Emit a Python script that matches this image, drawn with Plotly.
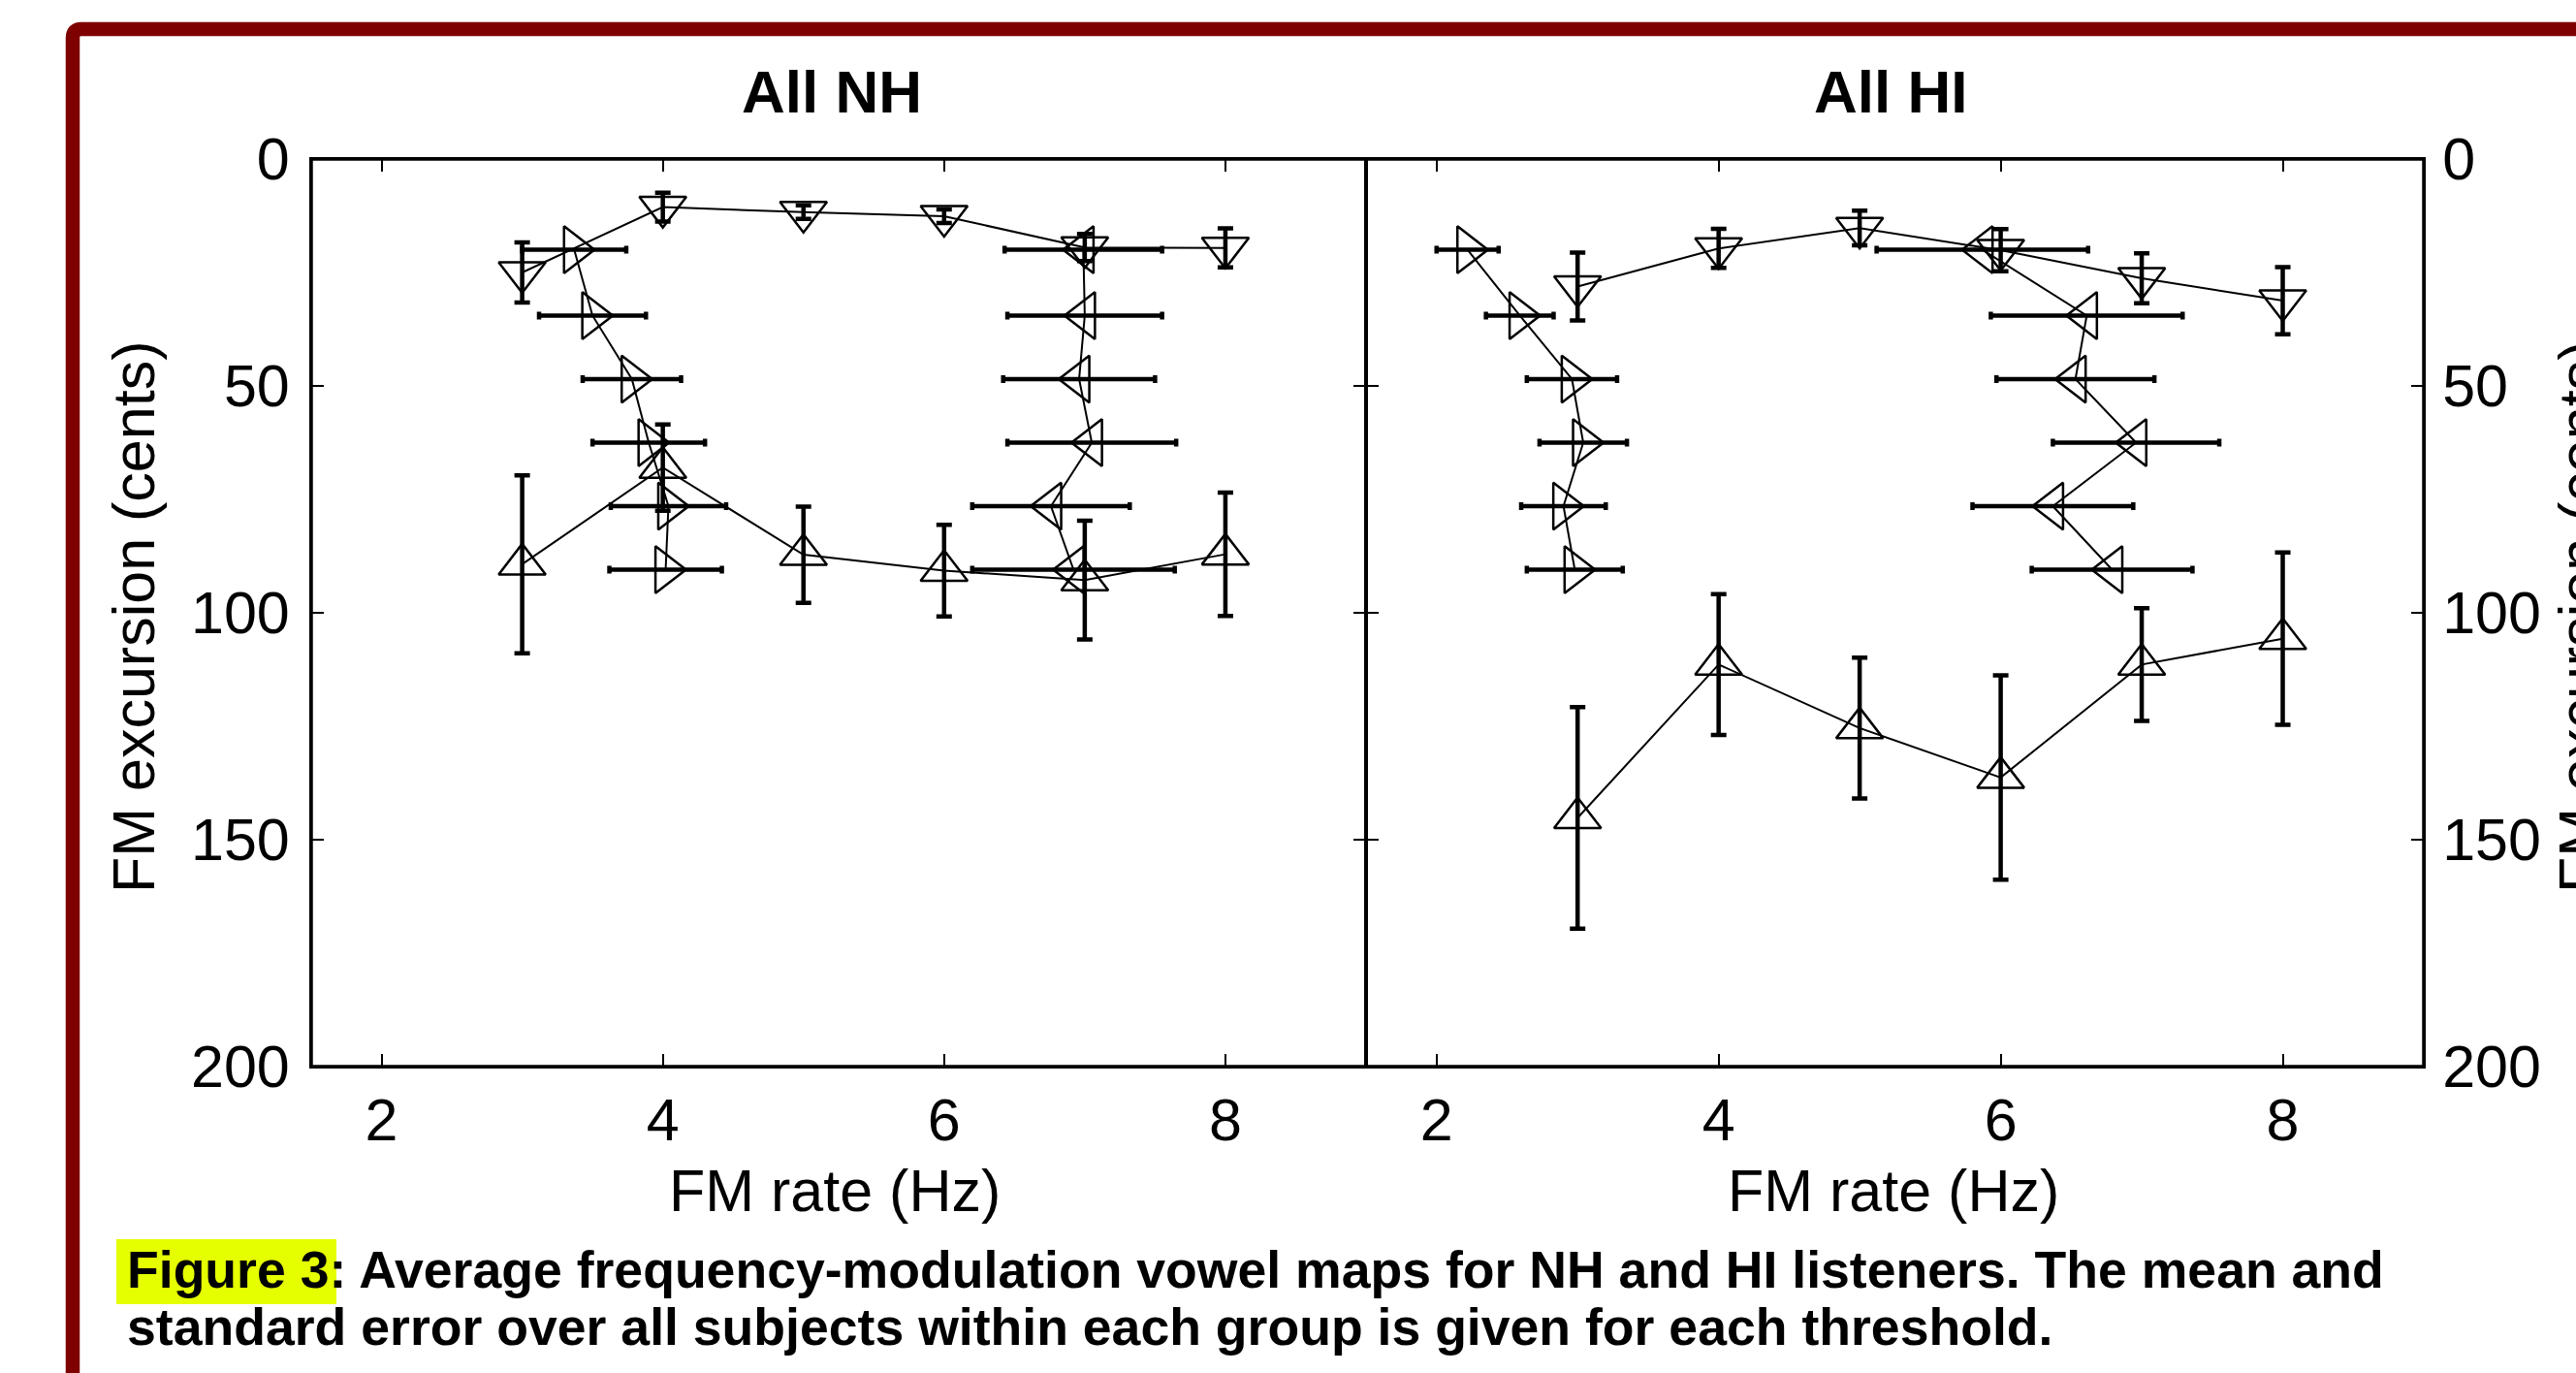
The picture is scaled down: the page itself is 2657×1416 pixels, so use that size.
import plotly.graph_objects as go

W, H = 2657, 1416
FONT = "Liberation Sans, Arial, sans-serif"

# ---------------- data ----------------
rates = [3, 4, 5, 6, 7, 8]                      # FM rate (Hz) for the excursion thresholds
levels = [20, 34.5, 48.5, 62.5, 76.5, 90.5]     # FM excursion (cents) for the rate thresholds

# All NH
nh_down_y = [25.0, 10.6, 11.7, 12.6, 19.5, 19.6]
nh_down_err = [6.6, 3.2, 1.5, 1.5, 3.0, 4.3]
nh_up_y = [89.3, 68.0, 87.2, 90.7, 92.8, 87.1]
nh_up_err = [19.6, 9.5, 10.6, 10.1, 13.1, 13.6]
nh_right_x = [3.37, 3.50, 3.78, 3.90, 4.04, 4.02]
nh_right_err = [0.37, 0.38, 0.35, 0.40, 0.41, 0.40]
nh_left_x = [6.99, 7.00, 6.96, 7.05, 6.76, 6.92]
nh_left_err = [0.56, 0.55, 0.54, 0.60, 0.56, 0.72]

# All HI
hi_down_y = [28.1, 19.7, 15.2, 20.1, 26.3, 31.2]
hi_down_err = [7.5, 4.3, 3.8, 4.65, 5.5, 7.4]
hi_up_y = [145.2, 111.4, 125.4, 136.3, 111.4, 105.7]
hi_up_err = [24.4, 15.5, 15.5, 22.5, 12.4, 19.0]
hi_right_x = [2.22, 2.59, 2.96, 3.04, 2.90, 2.98]
hi_right_err = [0.22, 0.24, 0.32, 0.31, 0.30, 0.34]
hi_left_x = [5.87, 6.61, 6.53, 6.96, 6.37, 6.79]
hi_left_err = [0.75, 0.68, 0.56, 0.59, 0.57, 0.57]

x_ticks = [2, 4, 6, 8]
y_ticks = [0, 50, 100, 150, 200]
panel_titles = ["All NH", "All HI"]
x_title = "FM rate (Hz)"
y_title = "FM excursion (cents)"
caption_1 = "Figure 3: Average frequency-modulation vowel maps for NH and HI listeners. The mean and"
caption_2 = "standard error over all subjects within each group is given for each threshold."

# ---------------- layout geometry (pixels) ----------------
L_X0, DIV, R_X1 = 321, 1409, 2500
Y_TOP, Y_BOT = 164, 1100


def fx(p):
    return p / W


def fy(p):
    return 1 - p / H


fig = go.Figure()


def mk(sym):
    return dict(symbol=sym, size=42, color="black", line=dict(width=2.5, color="black"))


def ey(arr):
    return dict(type="data", array=arr, visible=True, color="black", thickness=4.5, width=8)


def ex(arr):
    return dict(type="data", array=arr, visible=True, color="black", thickness=4.5, width=4)


def add_panel(xa, ya, down_y, down_e, up_y, up_e, right_x, right_e, left_x, left_e):
    common = dict(mode="lines+markers", line=dict(color="black", width=2),
                  xaxis=xa, yaxis=ya, showlegend=False, cliponaxis=False)
    fig.add_trace(go.Scatter(x=rates, y=down_y, error_y=ey(down_e),
                             marker=mk("triangle-down-open"), **common))
    fig.add_trace(go.Scatter(x=rates, y=up_y, error_y=ey(up_e),
                             marker=mk("triangle-up-open"), **common))
    fig.add_trace(go.Scatter(x=right_x, y=levels, error_x=ex(right_e),
                             marker=mk("triangle-right-open"), **common))
    fig.add_trace(go.Scatter(x=left_x, y=levels, error_x=ex(left_e),
                             marker=mk("triangle-left-open"), **common))


add_panel("x", "y", nh_down_y, nh_down_err, nh_up_y, nh_up_err,
          nh_right_x, nh_right_err, nh_left_x, nh_left_err)
add_panel("x2", "y2", hi_down_y, hi_down_err, hi_up_y, hi_up_err,
          hi_right_x, hi_right_err, hi_left_x, hi_left_err)

axis_common = dict(showline=True, linecolor="black", linewidth=2, mirror="ticks",
                   ticks="inside", ticklen=13, tickwidth=2, tickcolor="black",
                   showgrid=False, zeroline=False, automargin=False,
                   tickfont=dict(family=FONT, size=61, color="black"))

ydom = [fy(Y_BOT), fy(Y_TOP)]
fig.update_layout(
    width=W, height=H,
    margin=dict(l=0, r=0, t=0, b=0, pad=0, autoexpand=False),
    paper_bgcolor="white", plot_bgcolor="white",
    xaxis=dict(domain=[fx(L_X0), fx(DIV)], range=[1.5, 9], tickvals=x_ticks,
               anchor="y", ticklabelstandoff=1, **axis_common),
    yaxis=dict(domain=ydom, range=[200, 0], tickvals=y_ticks, anchor="x",
               ticklabelstandoff=8, **axis_common),
    xaxis2=dict(domain=[fx(DIV), fx(R_X1)], range=[1.5, 9], tickvals=x_ticks,
                anchor="y2", ticklabelstandoff=1, **axis_common),
    yaxis2=dict(domain=ydom, range=[200, 0], tickvals=y_ticks, anchor="x2",
                side="right", ticklabelstandoff=5, **axis_common),
)

# frame (dark red border, running off the right and bottom edges)
r = 9
x0 = fx(75)
ytop = fy(30)
frame_path = (f"M {x0},-0.3 L {x0},{ytop - r / H} "
              f"Q {x0},{ytop} {x0 + r / W},{ytop} L 1.3,{ytop}")
shapes = [
    dict(type="path", path=frame_path, xref="paper", yref="paper",
         line=dict(color="#7f0000", width=14.5), layer="above"),
    dict(type="rect", xref="paper", yref="paper",
         x0=fx(120), x1=fx(347), y0=fy(1345), y1=fy(1278),
         fillcolor="#e5ff00", line=dict(width=0), layer="below"),
    # heavier outer box around both panels
    dict(type="rect", xref="paper", yref="paper",
         x0=fx(L_X0), x1=fx(R_X1), y0=fy(Y_BOT), y1=fy(Y_TOP),
         line=dict(color="black", width=3.5), fillcolor="rgba(0,0,0,0)", layer="above"),
]
fig.update_layout(shapes=shapes)

ann = []
ann.append(dict(text=f"<b>{panel_titles[0]}</b>", x=fx(858), y=fy(94.5), xref="paper", yref="paper",
                showarrow=False, xanchor="center", yanchor="middle",
                font=dict(family=FONT, size=62, color="black")))
ann.append(dict(text=f"<b>{panel_titles[1]}</b>", x=fx(1950), y=fy(94.5), xref="paper", yref="paper",
                showarrow=False, xanchor="center", yanchor="middle",
                font=dict(family=FONT, size=62, color="black")))
for cx in (861, 1953):
    ann.append(dict(text=x_title, x=fx(cx), y=fy(1228), xref="paper", yref="paper",
                    showarrow=False, xanchor="center", yanchor="middle",
                    font=dict(family=FONT, size=61, color="black")))
for cx in (138, 2661):
    ann.append(dict(text=y_title, x=fx(cx), y=fy(637), xref="paper", yref="paper",
                    showarrow=False, xanchor="center", yanchor="middle", textangle=-90,
                    font=dict(family=FONT, size=61, color="black")))
ann.append(dict(text=f"<b>{caption_1}</b>", x=fx(129), y=fy(1309), xref="paper", yref="paper",
                showarrow=False, xanchor="left", yanchor="middle",
                font=dict(family=FONT, size=53.6, color="black")))
ann.append(dict(text=f"<b>{caption_2}</b>", x=fx(129), y=fy(1368), xref="paper", yref="paper",
                showarrow=False, xanchor="left", yanchor="middle",
                font=dict(family=FONT, size=53.6, color="black")))
fig.update_layout(annotations=ann)

fig.write_html("out.html")
